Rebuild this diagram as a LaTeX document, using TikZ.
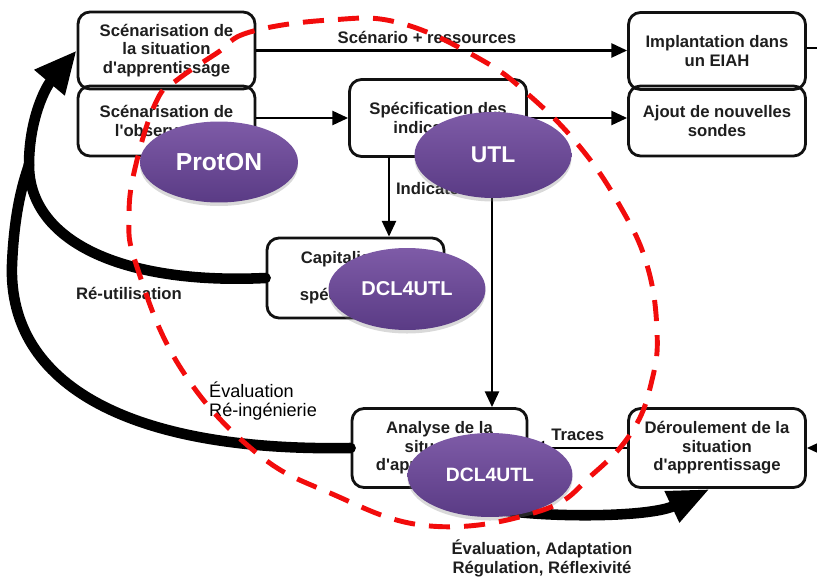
\documentclass[tikz,border=0pt]{standalone}
\usepackage{fontspec}
\setmainfont{Liberation Sans}
\usepackage{tikz}
\usetikzlibrary{positioning}
\usetikzlibrary{arrows.meta}
\usetikzlibrary{shapes.geometric}
\usetikzlibrary{shadows}
\definecolor{boxline}{HTML}{111111}
\definecolor{textgray}{HTML}{1E1E1E}
\definecolor{lilac}{HTML}{7E5BA7}
\definecolor{plum}{HTML}{5A3B85}
\definecolor{dashred}{HTML}{F20C0C}

\begin{document}
\begin{tikzpicture}[x=0.02cm,y=-0.02cm,
    etape/.style={draw=boxline,line width=1.6pt,rounded corners=0.24cm,minimum width=3.54cm,minimum height=1.54cm,align=center,text=textgray,font=\fontsize{9.5}{10.6}\selectfont\bfseries,inner sep=2pt},
    outil/.style={ellipse,top color=lilac,bottom color=plum,text=white,drop shadow={shadow xshift=0pt,shadow yshift=-2pt,opacity=0.3}},
    fleche/.style={line width=1.4pt,-{Triangle[length=9pt,width=8pt]}},
    boucle/.style={line width=6pt,line cap=round},
    libelle/.style={text=textgray,font=\fontsize{9.5}{10.8}\selectfont\bfseries}]
            \useasboundingbox (0,0) rectangle (817,577);

            \node[etape] (scenar) at (166.5,50.5) {Scénarisation de\\la situation\\d\textquotesingle apprentissage};
            \node[etape,minimum height=1.4cm] (observ) at (166.5,121) {Scénarisation de\\l\textquotesingle observation};
            \node[etape] (specif) at (438,118) {Spécification des\\indicateurs};
            \node[etape] (implant) at (717,51) {Implantation dans\\un EIAH};
            \node[etape,minimum height=1.4cm] (sondes) at (717,121) {Ajout de nouvelles\\sondes};
            \node[etape,minimum height=1.6cm] (capital) at (355.5,278) {Capitalisation\\des\\spécifications};
            \node[etape,minimum width=3.5cm,minimum height=1.58cm] (analyse) at (439.5,448) {Analyse de la\\situation\\d\textquotesingle apprentissage};
            \node[etape,minimum height=1.58cm] (deroul) at (717,448) {Déroulement de la\\situation\\d\textquotesingle apprentissage};

            \draw[fleche] (scenar.east) -- node[libelle,above,pos=0.46] {Scénario + ressources} (scenar.east -| implant.west);
            \draw[fleche] (observ.east |- specif.west) -- (specif.west);
            \draw[fleche] (specif.east) -- (specif.east -| sondes.west);
            \coordinate (indic) at (389,157);
            \draw[fleche] (indic) -- node[libelle,right,pos=0.4] {Indicateurs} (indic |- capital.north);
            \coordinate (versAnalyse) at (492,157);
            \draw[fleche] (versAnalyse) -- (versAnalyse |- analyse.north);
            \draw[fleche] (deroul.west) -- node[libelle,above] {Traces} (analyse.east);
            \coordinate (entree) at (835,448);
            \draw[fleche] (entree) -- (deroul.east);
            \coordinate (sortie) at (835,48);
            \draw[line width=1.4pt] (implant.east |- sortie) -- (sortie);

            \coordinate (jonction) at (29,165);
            \draw[boucle,-{Triangle[length=24pt,width=21pt]}] (jonction) .. controls (29,120) and (45,88) .. (scenar.west);
            \draw[boucle] (capital.west) .. controls (120,285) and (29,240) .. (jonction);
            \draw[boucle] (analyse.west) .. controls (130,452) and (8,385) .. (12,265) .. controls (14,215) and (22,185) .. (jonction);
            \draw[boucle,-{Triangle[length=24pt,width=18pt]}] (analyse.south) .. controls (450,518) and (640,522) .. ([xshift=-4pt]deroul.south);

            \node[libelle] (reutil) at (129,293) {Ré-utilisation};
            \node[text=black,font=\fontsize{10.3}{11}\selectfont,align=left,anchor=west] (reing) at (203,401) {Évaluation\\Ré-ingénierie};
            \node[libelle,align=center] (regul) at (542,558) {Évaluation, Adaptation\\Régulation, Réflexivité};

            \node[outil,minimum width=3.16cm,minimum height=1.62cm,font=\fontsize{14}{14}\selectfont\bfseries] (proton) at (219,162) {ProtON};
            \node[outil,minimum width=3.14cm,minimum height=1.72cm,font=\fontsize{13}{13}\selectfont\bfseries] (utl) at (493,155) {UTL};
            \node[outil,minimum width=3.14cm,minimum height=1.64cm,font=\fontsize{11.4}{12}\selectfont\bfseries] (dclA) at (407,289) {DCL4UTL};
            \node[outil,minimum width=3.3cm,minimum height=1.68cm,font=\fontsize{11}{12}\selectfont\bfseries] (dclB) at (490,475) {DCL4UTL};

            \draw[dashred,line width=2.8pt,dash pattern=on 12pt off 8pt] plot[smooth cycle,tension=0.7] coordinates {(330,20) (250,32) (217,53) (177,80) (157,100) (137,160) (129,215) (137,267) (180,367) (253,450) (330,493) (430,526) (540,511) (593,474) (633,430) (652,380) (657,331) (647,265) (620,206) (580,147) (530,96) (480,59) (400,23)};
        \end{tikzpicture}
\end{document}
